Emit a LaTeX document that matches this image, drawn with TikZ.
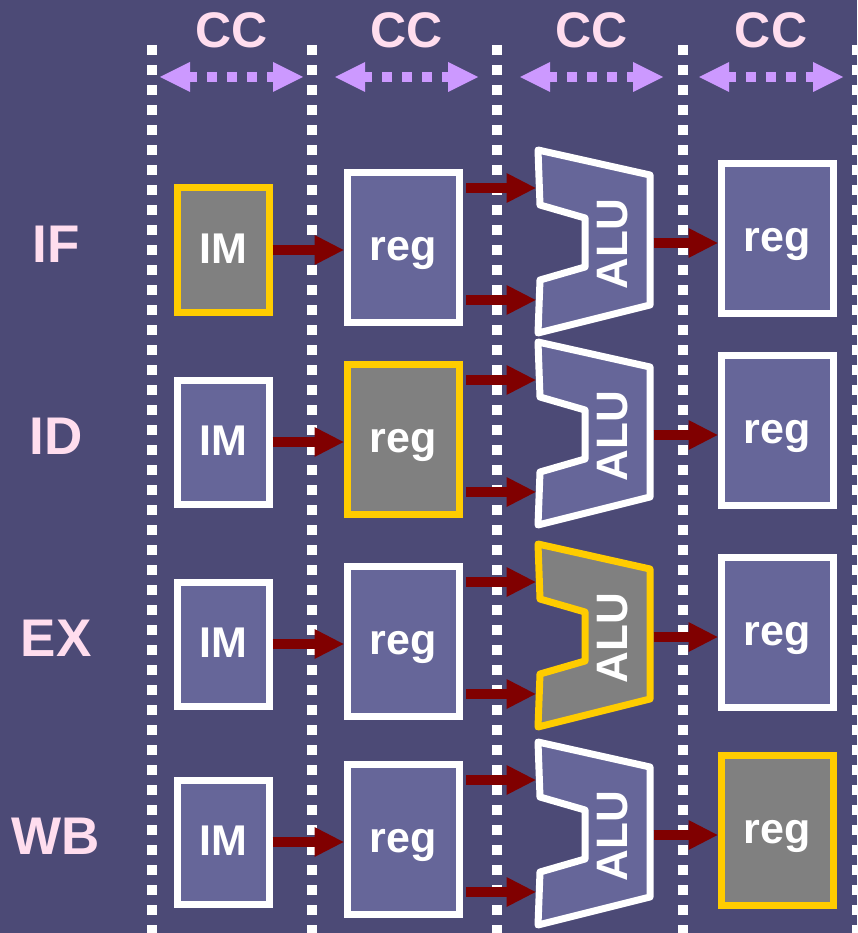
\documentclass[tikz,border=0pt]{standalone}
\usepackage{fontspec}
\setmainfont{Liberation Sans}
\usetikzlibrary{arrows.meta}
\definecolor{bg}{RGB}{76,74,118}
\definecolor{boxfill}{RGB}{102,102,153}
\definecolor{hlgray}{RGB}{128,128,128}
\definecolor{gold}{RGB}{255,204,0}
\definecolor{arrowred}{RGB}{128,0,0}
\definecolor{pinktext}{RGB}{255,221,238}
\definecolor{lilac}{RGB}{204,153,255}
\newcommand\myccfont{\fontsize{50}{50}\selectfont\bfseries}
\newcommand\mylabfont{\fontsize{53}{53}\selectfont\bfseries}
\newcommand\myboxfont{\fontsize{43}{43}\selectfont\bfseries}
\newcommand\myalufont{\fontsize{44}{44}\selectfont\bfseries}
\tikzset{
  plain/.style={},
  active/.style={draw=gold, fill=hlgray},
  unitbox/.style={draw=white, line width=7pt, fill=boxfill, inner sep=0pt,
    text=white, font=\myboxfont, text height=26pt, text depth=0pt},
  imbox/.style={unitbox, minimum width=92pt, minimum height=124pt},
  regbox/.style={unitbox, minimum width=112pt, minimum height=150pt},
  aluline/.style={draw=white, fill=boxfill, line width=7pt, line join=round},
  alutext/.style={text=white, font=\myalufont, rotate=90, inner sep=0pt},
  stagelabel/.style={text=pinktext, font=\mylabfont, inner sep=0pt},
  cclabel/.style={text=pinktext, font=\myccfont, inner sep=0pt},
  flow/.style={draw=arrowred, line width=10pt,
    -{Triangle[length=29pt 0 0, width=30pt 0 0, line width=0pt]}},
  ccspan/.style={draw=lilac, line width=10pt, dash pattern=on 10pt off 10pt, dash phase=3pt,
    {Triangle[length=30pt 0 0, width=30pt 0 0, line width=0pt]}-{Triangle[length=30pt 0 0, width=30pt 0 0, line width=0pt]}},
  clockline/.style={draw=white, line width=9.5pt, dash pattern=on 10pt off 10pt}
}
\newcommand\stagerow[7]{%
  \begin{scope}[shift={(0,#1)}]
    \node[stagelabel] (lab#2) at (56,244) {#3};
    \node[imbox,#4] (im#2) at (223,250) {IM};
    \node[regbox,#5] (rg#2) at (403,247.5) {reg};
    \draw[aluline,#6] (538,150) -- (650,175) -- (650,305) -- (538,333) -- (540,280)
      -- (585,267) -- (585,218) -- (540,205) -- cycle;
    \node[alutext] (alu#2) at (613,244) {ALU};
    \coordinate (ina#2) at (535.5,188);
    \coordinate (inb#2) at (535.5,300);
    \coordinate (aluout#2) at (653.5,243);
    \node[regbox,#7] (wr#2) at (777,238.5) {reg};
    \draw[flow] (im#2.east) -- (im#2.east -| rg#2.west);
    \draw[flow, shorten <=3.5pt] (rg#2.east |- ina#2) -- (ina#2);
    \draw[flow, shorten <=3.5pt] (rg#2.east |- inb#2) -- (inb#2);
    \draw[flow] (aluout#2) -- (aluout#2 -| wr#2.west);
  \end{scope}}
\begin{document}
\begin{tikzpicture}[x=1pt, y=-1pt]
  \useasboundingbox (0,0) rectangle (857,933);
  \fill[bg] (0,0) rectangle (857,933);
  \clip (0,0) rectangle (857,933);
  % clock boundaries
  \foreach \xx/\nm in {152/c0, 312/c1, 497/c2, 683/c3, 857/c4} {
    \coordinate (\nm top) at (\xx,45);
    \coordinate (\nm bot) at (\xx,940);
    \draw[clockline] (\nm top) -- (\nm bot);
  }
  % clock cycle spans
  \foreach \a/\b/\cx/\nm in {160/303/231.5/s1, 335/478/407/s2, 520/663/591.5/s3, 699/843/771/s4} {
    \coordinate (\nm l) at (\a,77);
    \coordinate (\nm r) at (\b,77);
    \draw[ccspan] (\nm l) -- (\nm r);
    \node[cclabel] (\nm cc) at (\cx,30) {CC};
  }
  \stagerow{0}{1}{IF}{active}{plain}{plain}{plain}
  \stagerow{192}{2}{ID}{plain}{active}{plain}{plain}
  \stagerow{394}{3}{EX}{plain}{plain}{active}{plain}
  \stagerow{592}{4}{WB}{plain}{plain}{plain}{active}
\end{tikzpicture}
\end{document}
